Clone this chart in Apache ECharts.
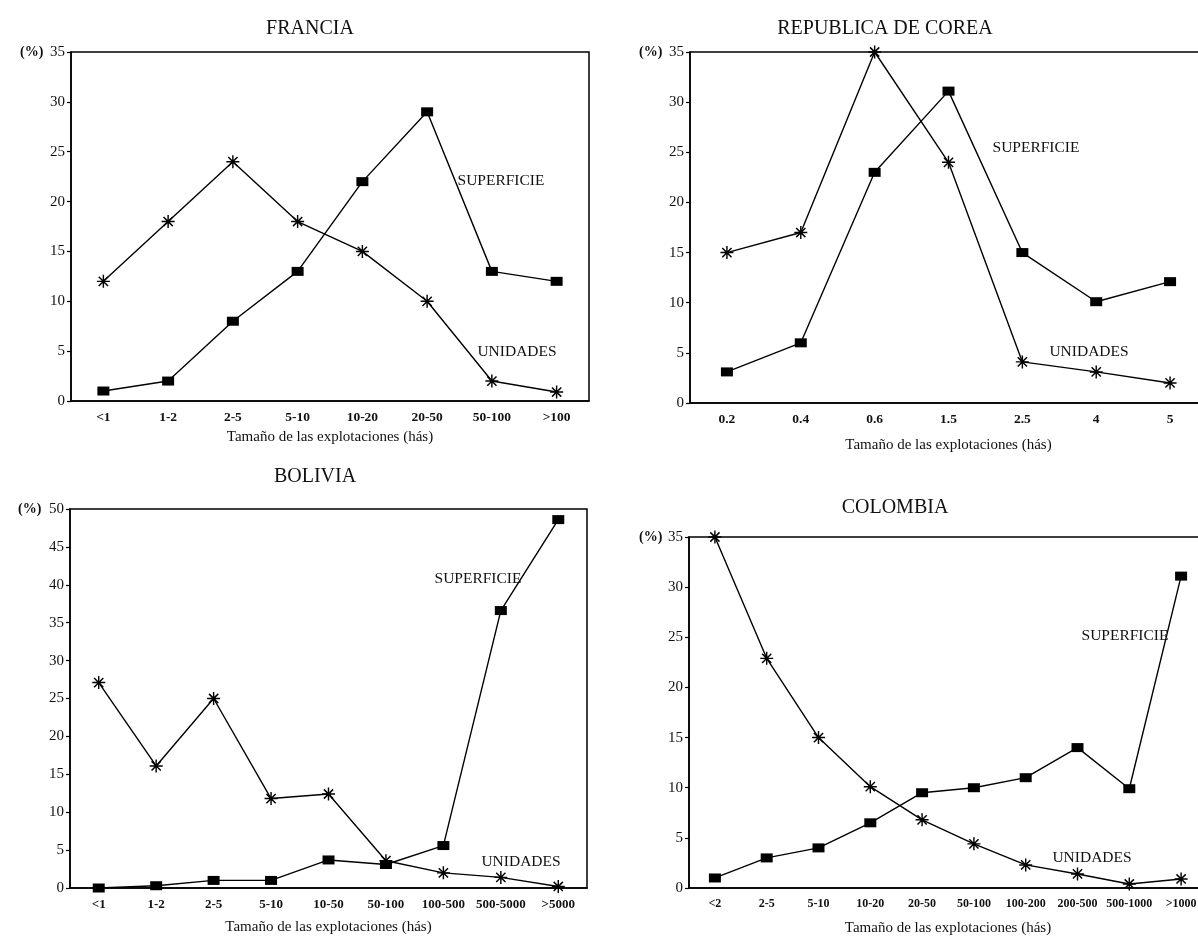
<!DOCTYPE html>
<html><head><meta charset="utf-8">
<script src="https://cdn.jsdelivr.net/npm/echarts@6/dist/echarts.min.js"></script>
<style>html,body{margin:0;padding:0;background:#fff}#c{width:1198px;height:941px}</style>
</head><body><div id="c"></div>
<script>
// ---- data ----
const franciaCats = ['<1','1-2','2-5','5-10','10-20','20-50','50-100','>100'];
const franciaSup  = [1, 2, 8, 13, 22, 29, 13, 12];
const franciaUni  = [12, 18, 24, 18, 15, 10, 2, 0.9];

const coreaCats = ['0.2','0.4','0.6','1.5','2.5','4','5'];
const coreaSup  = [3.1, 6, 23, 31.1, 15, 10.1, 12.1];
const coreaUni  = [15, 17, 35, 24, 4.1, 3.1, 2];

const boliviaCats = ['<1','1-2','2-5','5-10','10-50','50-100','100-500','500-5000','>5000'];
const boliviaSup  = [0, 0.3, 1, 1, 3.7, 3.1, 5.6, 36.6, 48.6];
const boliviaUni  = [27.1, 16.1, 25, 11.8, 12.4, 3.6, 2, 1.4, 0.2];

const colombiaCats = ['<2','2-5','5-10','10-20','20-50','50-100','100-200','200-500','500-1000','>1000'];
const colombiaSup  = [1, 3, 4, 6.5, 9.5, 10, 11, 14, 9.9, 31.1];
const colombiaUni  = [35, 22.9, 15, 10.1, 6.8, 4.4, 2.3, 1.4, 0.4, 0.9];

const titles = ['FRANCIA','REPUBLICA DE COREA','BOLIVIA','COLOMBIA'];
const yMax = [35, 35, 50, 35];
const xName = 'Tamaño de las explotaciones (hás)';
const supLabel = 'SUPERFICIE', uniLabel = 'UNIDADES';

// ---- layout / style ----
const FONT = '"Liberation Serif","DejaVu Serif",serif';
const star = 'path://M-1.1,-10L1.1,-10L1.1,10L-1.1,10Z M-10,-1.1L10,-1.1L10,1.1L-10,1.1Z M-7.9,-6.3L-6.3,-7.9L7.9,6.3L6.3,7.9Z M6.3,-7.9L7.9,-6.3L-6.3,7.9L-7.9,6.3Z';
const panels = [
  {cats: franciaCats, sup: franciaSup, uni: franciaUni, grid: {left:71, width:518, top:52, height:349}, fs:13.5, nameGap:29,
   title:{x:305,y:14}, pct:{x:20,y:53}, supPos:{x:501,y:181}, uniPos:{x:517,y:352}},
  {cats: coreaCats, sup: coreaSup, uni: coreaUni, grid: {left:690, width:517, top:52, height:351}, fs:13.5, nameGap:35,
   title:{x:880,y:14}, pct:{x:639,y:53}, supPos:{x:1036,y:148}, uniPos:{x:1089,y:352}},
  {cats: boliviaCats, sup: boliviaSup, uni: boliviaUni, grid: {left:70, width:517, top:509, height:379}, fs:13, nameGap:32,
   title:{x:310,y:462}, pct:{x:18,y:510}, supPos:{x:478,y:579}, uniPos:{x:521,y:862}},
  {cats: colombiaCats, sup: colombiaSup, uni: colombiaUni, grid: {left:689, width:518, top:537, height:351}, fs:12, nameGap:33,
   title:{x:890,y:493}, pct:{x:639,y:538}, supPos:{x:1125,y:636}, uniPos:{x:1092,y:858}}
];

const option = {
  backgroundColor:'#fff',
  animation:false,
  title: [], grid: [], xAxis: [], yAxis: [], series: [], graphic: []
};
panels.forEach((p,i)=>{
  option.title.push({text: titles[i], left: p.title.x, top: p.title.y, textAlign:'center',
    textStyle:{fontFamily:FONT, fontSize:20, fontWeight:'normal', color:'#111'}});
  option.grid.push(Object.assign({show:true, borderColor:'#000', borderWidth:1.5, backgroundColor:'transparent',
    outerBoundsMode:'none', containLabel:false}, p.grid));
  option.xAxis.push({type:'category', gridIndex:i, data:p.cats, boundaryGap:true,
    axisLine:{lineStyle:{color:'#000', width:1.5}},
    axisTick:{alignWithLabel:true, length:4, interval:0, lineStyle:{color:'#000', width:1.5}},
    axisLabel:{color:'#111', fontFamily:FONT, fontSize:p.fs, fontWeight:'bold', margin:10, interval:0, hideOverlap:false},
    name:xName, nameLocation:'middle', nameGap:p.nameGap,
    nameTextStyle:{color:'#111', fontFamily:FONT, fontSize:15}});
  option.yAxis.push({type:'value', gridIndex:i, min:0, max:yMax[i], interval:5,
    axisLine:{show:true, lineStyle:{color:'#000', width:1.5}},
    axisTick:{show:true, length:4, lineStyle:{color:'#000', width:1.2}},
    splitLine:{show:false},
    axisLabel:{color:'#111', fontFamily:FONT, fontSize:15, margin:6}});
  option.series.push({type:'line', xAxisIndex:i, yAxisIndex:i, data:p.sup, name:supLabel,
    symbol:'rect', symbolSize:[12,9], itemStyle:{color:'#000'}, lineStyle:{color:'#000', width:1.4}, z:3});
  option.series.push({type:'line', xAxisIndex:i, yAxisIndex:i, data:p.uni, name:uniLabel,
    symbol:star, symbolSize:13, itemStyle:{color:'#000'}, lineStyle:{color:'#000', width:1.4}, z:3});
  option.graphic.push({type:'text', left:p.pct.x, top:p.pct.y-8, style:{text:'(%)', font:'bold 14px '+FONT, fill:'#111'}});
  option.graphic.push({type:'text', x:p.supPos.x, y:p.supPos.y, style:{text:supLabel, font:'15.5px '+FONT, fill:'#111', align:'center', verticalAlign:'middle'}});
  option.graphic.push({type:'text', x:p.uniPos.x, y:p.uniPos.y, style:{text:uniLabel, font:'15.5px '+FONT, fill:'#111', align:'center', verticalAlign:'middle'}});
});
const chart = echarts.init(document.getElementById('c'), null, {renderer:'canvas'});
chart.setOption(option);
</script></body></html>
